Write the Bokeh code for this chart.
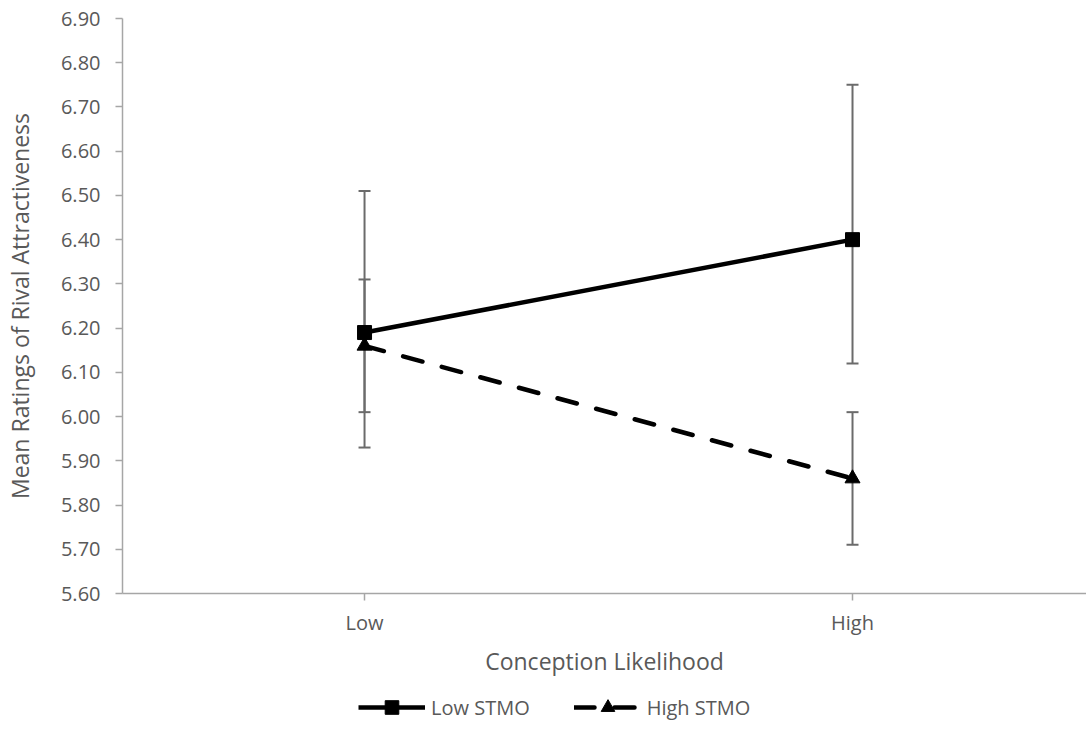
from bokeh.plotting import figure
from bokeh.layouts import column
from bokeh.models import (ColumnDataSource, Whisker, TeeHead, FixedTicker, Legend,
                          LegendItem, Range1d, PrintfTickFormatter)
from bokeh.embed import file_html
from bokeh.resources import INLINE

categories = ["Low", "High"]
series_names = ["Low STMO", "High STMO"]
low_stmo = [6.19, 6.40]
low_stmo_upper = [6.51, 6.75]
low_stmo_lower = [5.93, 6.12]
high_stmo = [6.16, 5.86]
high_stmo_upper = [6.31, 6.01]
high_stmo_lower = [6.01, 5.71]
y_ticks = [5.60, 5.70, 5.80, 5.90, 6.00, 6.10, 6.20, 6.30, 6.40, 6.50, 6.60, 6.70, 6.80, 6.90]

xs = list(range(len(categories)))
FONT = "Open Sans"
TXT = "#595959"
AX = "#a6a6a6"
ERR = "#6b6b6b"

p = figure(frame_width=964, frame_height=575, output_backend="svg", toolbar_location=None,
           x_range=Range1d(-0.496, 1.4795), y_range=Range1d(5.60, 6.90),
           min_border_left=121, min_border_right=1, min_border_top=18, min_border_bottom=87)
p.outline_line_color = None
p.grid.visible = False

src_low = ColumnDataSource(dict(x=xs, y=low_stmo, upper=low_stmo_upper, lower=low_stmo_lower))
src_high = ColumnDataSource(dict(x=xs, y=high_stmo, upper=high_stmo_upper, lower=high_stmo_lower))

for src in (src_low, src_high):
    w = Whisker(base="x", upper="upper", lower="lower", source=src,
                line_color=ERR, line_width=2, level="underlay",
                upper_head=TeeHead(size=12, line_color=ERR, line_width=2),
                lower_head=TeeHead(size=12, line_color=ERR, line_width=2))
    p.add_layout(w)

line_low = dict(line_color="black", line_width=4.5)
line_high = dict(line_color="black", line_width=4.5, line_dash="20 20", line_cap="round")
mk_low = dict(marker="square", size=14, color="black")
mk_high = dict(marker="triangle", size=15, color="black")

p.line("x", "y", source=src_low, **line_low)
p.scatter("x", "y", source=src_low, **mk_low)
p.line("x", "y", source=src_high, **line_high)
p.scatter("x", "y", source=src_high, **mk_high)

# axes
p.xaxis.ticker = FixedTicker(ticks=xs)
p.xaxis.major_label_overrides = {i: c for i, c in enumerate(categories)}
p.yaxis.ticker = FixedTicker(ticks=y_ticks)
p.yaxis.formatter = PrintfTickFormatter(format="%.2f")
for ax in (p.xaxis, p.yaxis):
    ax.axis_line_color = AX
    ax.axis_line_width = 1.5
    ax.major_tick_line_color = AX
    ax.major_tick_line_width = 1.5
    ax.major_tick_out = 7
    ax.major_tick_in = 0
    ax.minor_tick_line_color = None
    ax.major_label_text_font = FONT
    ax.major_label_text_font_size = "20px"
    ax.major_label_text_color = TXT
    ax.axis_label_text_font = FONT
    ax.axis_label_text_font_size = "23px"
    ax.axis_label_text_color = TXT
    ax.axis_label_text_font_style = "normal"
p.xaxis.axis_label = "Conception Likelihood"
p.yaxis.axis_label = "Mean Ratings of Rival Attractiveness"
p.xaxis.major_label_standoff = 8
p.xaxis.axis_label_standoff = 6
p.yaxis.major_label_standoff = 15
p.yaxis.axis_label_standoff = 22

# legend strip (same series, drawn out of view so only the legend shows)
lg = figure(width=1086, height=54, output_backend="svg", toolbar_location=None,
            x_range=Range1d(100, 101), y_range=Range1d(100, 101),
            x_axis_location=None, y_axis_location=None,
            min_border_left=0, min_border_right=0, min_border_top=0, min_border_bottom=0)
lg.outline_line_color = None
lg.grid.visible = False
r1 = [lg.line("x", "y", source=src_low, **line_low),
      lg.scatter("x", "y", source=src_low, **mk_low)]
r2 = [lg.line("x", "y", source=src_high, **line_high),
      lg.scatter("x", "y", source=src_high, **mk_high)]

legend = Legend(items=[LegendItem(label=series_names[0], renderers=r1),
                       LegendItem(label=series_names[1], renderers=r2)],
                orientation="horizontal", location=(236, 10),
                border_line_color=None, background_fill_alpha=0,
                label_text_font=FONT, label_text_font_size="20px", label_text_color=TXT,
                glyph_width=67, glyph_height=34, spacing=44, label_standoff=6,
                margin=0, padding=0)
lg.add_layout(legend)

open("out.html", "w").write(file_html(column(p, lg, spacing=0), INLINE))
